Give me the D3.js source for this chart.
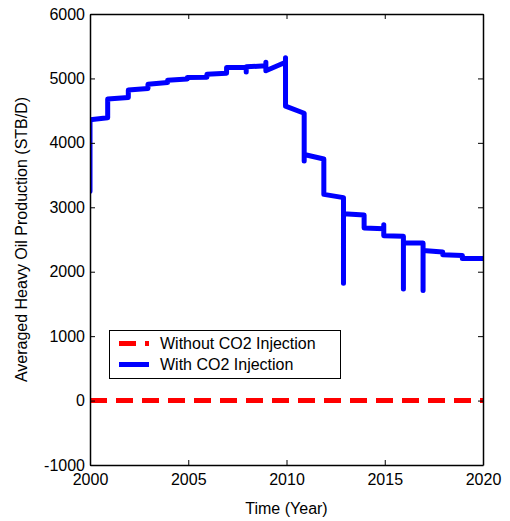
<!DOCTYPE html>
<html><head><meta charset="utf-8">
<script src="https://cdn.jsdelivr.net/npm/d3@7"></script>
<style>body{margin:0;background:#fff;} text{font-family:"Liberation Sans",Arial,sans-serif;}</style>
</head><body>
<svg id="chart" width="510" height="521"></svg>
<script>
// Series: With CO2 Injection (step-like path, year vs STB/D)
const withTime = [2000.0,2000.0,2000.9,2000.9,2001.95,2001.95,2002.95,2002.95,2003.95,2003.95,2004.95,2004.95,2005.95,2005.95,2006.95,2006.95,2007.95,2007.95,2007.95,2008.95,2008.95,2008.95,2009.95,2009.95,2009.95,2010.9,2010.9,2010.9,2011.9,2011.9,2012.9,2012.9,2012.9,2013.95,2013.95,2014.95,2014.95,2014.95,2015.95,2015.95,2015.95,2016.95,2016.95,2016.95,2017.95,2017.95,2018.95,2018.95,2020.0];
const withValue = [3250,4360,4390,4680,4705,4820,4845,4910,4935,4970,4990,5015,5020,5065,5080,5170,5175,5100,5180,5195,5250,5120,5250,5320,4570,4460,3720,3820,3750,3200,3150,1820,2900,2880,2680,2665,2730,2560,2550,1730,2450,2445,1710,2330,2305,2265,2250,2205,2205];
// Series: Without CO2 Injection
const withoutTime = [2000, 2020];
const withoutValue = [0, 0];
const xTicks = [2000, 2005, 2010, 2015, 2020];
const yTicks = [-1000, 0, 1000, 2000, 3000, 4000, 5000, 6000];
const seriesNames = ["Without CO2 Injection", "With CO2 Injection"];

const svg = d3.select("#chart");
const L = 90, R = 483, T = 14, B = 465;
const x = d3.scaleLinear().domain([2000, 2020]).range([L, R]);
const y = d3.scaleLinear().domain([-1000, 6000]).range([B, T]);
const fs = 16;
const fmt = d => String(d); // plain hyphen for negatives

svg.append("defs").append("clipPath").attr("id", "clip")
  .append("rect").attr("x", L).attr("y", T).attr("width", R - L).attr("height", B - T);

const line = d3.line().x(d => x(d[0])).y(d => y(d[1]));
const g = svg.append("g").attr("clip-path", "url(#clip)");
g.append("path").datum(withoutTime.map((t, i) => [t, withoutValue[i]]))
  .attr("d", line).attr("fill", "none").attr("stroke", "#ff0000")
  .attr("stroke-width", 5).attr("stroke-dasharray", "17,9");
g.append("path").datum(withTime.map((t, i) => [t, withValue[i]]))
  .attr("d", line).attr("fill", "none").attr("stroke", "#0000ff")
  .attr("stroke-width", 5).attr("stroke-linejoin", "round").attr("stroke-linecap", "round");

// axes (ticks inward, box)
const axB = svg.append("g").attr("transform", `translate(0,${B})`)
  .call(d3.axisBottom(x).tickValues(xTicks).tickFormat(fmt).tickSizeInner(-5).tickSizeOuter(0).tickPadding(10));
const axT = svg.append("g").attr("transform", `translate(0,${T})`)
  .call(d3.axisTop(x).tickValues(xTicks).tickFormat("").tickSizeInner(-5).tickSizeOuter(0));
const axL = svg.append("g").attr("transform", `translate(${L},0)`)
  .call(d3.axisLeft(y).tickValues(yTicks).tickFormat(fmt).tickSizeInner(-5).tickSizeOuter(0).tickPadding(5));
const axR = svg.append("g").attr("transform", `translate(${R},0)`)
  .call(d3.axisRight(y).tickValues(yTicks).tickFormat("").tickSizeInner(-5).tickSizeOuter(0));
[axB, axT, axL, axR].forEach(a => {
  a.selectAll("path.domain").attr("stroke", "#000").attr("stroke-width", 1.5);
  a.selectAll(".tick line").attr("stroke", "#000");
  a.selectAll("text").attr("font-size", fs).attr("fill", "#000")
    .attr("font-family", "Liberation Sans, Arial, sans-serif");
});
axB.selectAll("text").attr("dy", "0.6em");

svg.append("text").attr("x", (L + R) / 2).attr("y", 514).attr("text-anchor", "middle")
  .attr("font-size", fs).text("Time (Year)");
svg.append("text").attr("transform", `translate(27,${(T + B) / 2}) rotate(-90)`)
  .attr("text-anchor", "middle").attr("font-size", fs)
  .text("Averaged Heavy Oil Production (STB/D)");

// legend
const lg = svg.append("g");
lg.append("rect").attr("x", 109.5).attr("y", 330.5).attr("width", 231).attr("height", 48)
  .attr("fill", "#fff").attr("stroke", "#000").attr("stroke-width", 1);
const styles = [{c: "#ff0000", dash: "17,9"}, {c: "#0000ff", dash: null}];
seriesNames.forEach((n, i) => {
  const yy = 343.5 + i * 21;
  lg.append("line").attr("x1", 119).attr("x2", 149).attr("y1", yy).attr("y2", yy)
    .attr("stroke", styles[i].c).attr("stroke-width", 5)
    .attr("stroke-dasharray", styles[i].dash);
  lg.append("text").attr("x", 160).attr("y", yy).attr("dy", "0.35em")
    .attr("font-size", fs).text(n);
});
</script>
</body></html>
